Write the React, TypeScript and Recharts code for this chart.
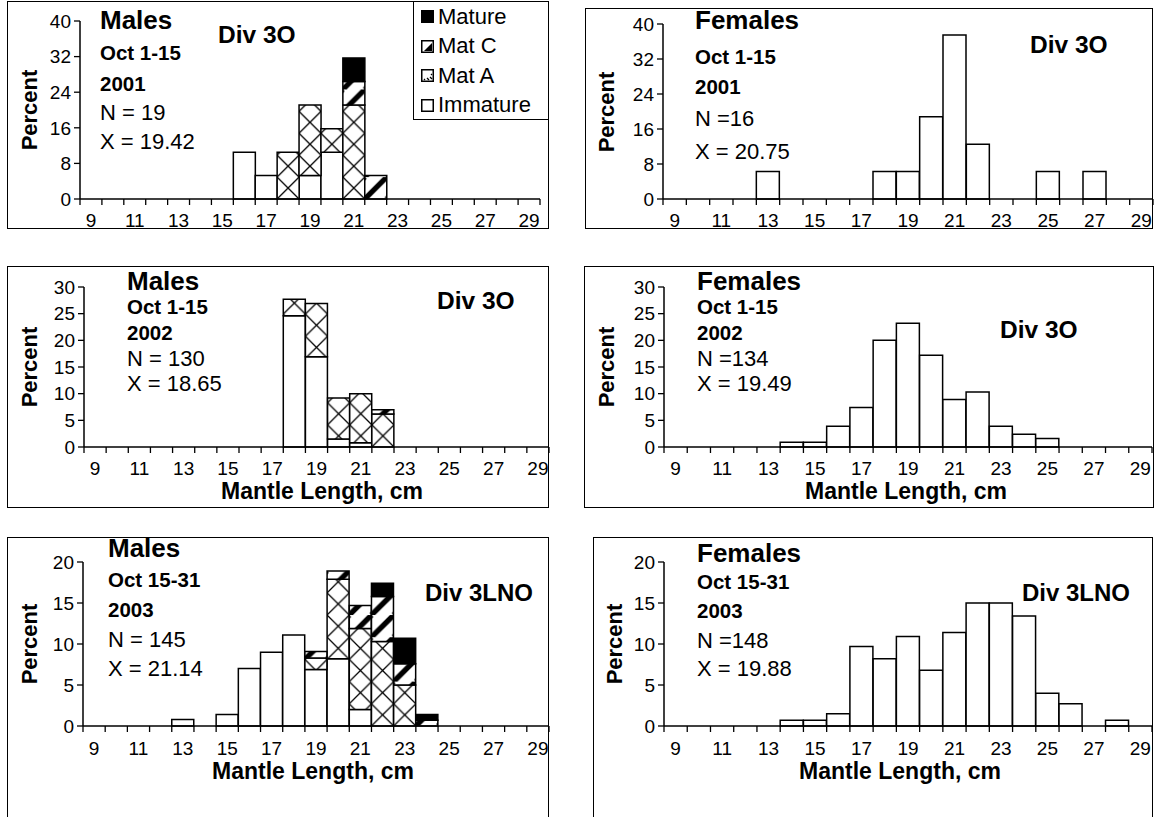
import { Bar, BarChart, Legend, XAxis, YAxis } from "recharts";

const FONT = "'Liberation Sans', Arial, Helvetica, sans-serif";

// Mantle length classes (cm), one bar per class.
const LENGTHS = [9, 10, 11, 12, 13, 14, 15, 16, 17, 18, 19, 20, 21, 22, 23, 24, 25, 26, 27, 28, 29];

const TICKS_40 = [0, 8, 16, 24, 32, 40];
const TICKS_30 = [0, 5, 10, 15, 20, 25, 30];
const TICKS_20 = [0, 5, 10, 15, 20];

// Percent per length class.  9  10 11 12 13 14 15  16    17   18    19    20    21    22   23   24   25   26   27   28   29
const MALES_2001_IMMATURE = [0, 0, 0, 0, 0, 0, 0, 10.5, 5.3, 0, 5.3, 10.5, 0, 0, 0, 0, 0, 0, 0, 0, 0];
const MALES_2001_MAT_A = [0, 0, 0, 0, 0, 0, 0, 0, 0, 10.5, 15.8, 5.3, 21.1, 0, 0, 0, 0, 0, 0, 0, 0];
const MALES_2001_MAT_C = [0, 0, 0, 0, 0, 0, 0, 0, 0, 0, 0, 0, 5.3, 5.3, 0, 0, 0, 0, 0, 0, 0];
const MALES_2001_MATURE = [0, 0, 0, 0, 0, 0, 0, 0, 0, 0, 0, 0, 5.3, 0, 0, 0, 0, 0, 0, 0, 0];

const FEMALES_2001 = [0, 0, 0, 0, 6.3, 0, 0, 0, 0, 6.3, 6.3, 18.8, 37.5, 12.5, 0, 0, 6.3, 0, 6.3, 0, 0];

const MALES_2002_IMMATURE = [0, 0, 0, 0, 0, 0, 0, 0, 0, 24.6, 16.9, 1.5, 0.8, 0, 0, 0, 0, 0, 0, 0, 0];
const MALES_2002_MAT_A = [0, 0, 0, 0, 0, 0, 0, 0, 0, 3.1, 10.0, 7.7, 9.2, 6.2, 0, 0, 0, 0, 0, 0, 0];
const MALES_2002_MAT_C = [0, 0, 0, 0, 0, 0, 0, 0, 0, 0, 0, 0, 0, 0.8, 0, 0, 0, 0, 0, 0, 0];
const MALES_2002_MATURE = [0, 0, 0, 0, 0, 0, 0, 0, 0, 0, 0, 0, 0, 0, 0, 0, 0, 0, 0, 0, 0];

const FEMALES_2002 = [0, 0, 0, 0, 0, 0.9, 0.9, 3.9, 7.4, 20.0, 23.2, 17.2, 8.9, 10.3, 3.9, 2.4, 1.6, 0, 0, 0, 0];

const MALES_2003_IMMATURE = [0, 0, 0, 0, 0.8, 0, 1.4, 7.0, 9.0, 11.1, 6.9, 8.2, 2.0, 0, 0, 0, 0, 0, 0, 0, 0];
const MALES_2003_MAT_A = [0, 0, 0, 0, 0, 0, 0, 0, 0, 0, 1.4, 9.7, 9.9, 10.3, 5.0, 0, 0, 0, 0, 0, 0];
const MALES_2003_MAT_C = [0, 0, 0, 0, 0, 0, 0, 0, 0, 0, 0.8, 1.0, 2.8, 5.5, 2.6, 0.7, 0, 0, 0, 0, 0];
const MALES_2003_MATURE = [0, 0, 0, 0, 0, 0, 0, 0, 0, 0, 0, 0, 0, 1.6, 3.1, 0.7, 0, 0, 0, 0, 0];

const FEMALES_2003 = [0, 0, 0, 0, 0, 0.7, 0.7, 1.5, 9.7, 8.2, 10.9, 6.8, 11.4, 15.0, 15.0, 13.4, 4.0, 2.7, 0, 0.7, 0];

function maleRows(imm: number[], matA: number[], matC: number[], mature: number[]) {
  return LENGTHS.map((len, i) => ({ len, imm: imm[i], matA: matA[i], matC: matC[i], mature: mature[i] }));
}

function femaleRows(pct: number[]) {
  return LENGTHS.map((len, i) => ({ len, pct: pct[i] }));
}

type Box = { x: number; y: number; w: number; h: number };
type Plot = { left: number; right: number; top: number; bottom: number };
type TextLine = { text: string; x: number; y: number; size: number; bold?: boolean };

const YAXIS_W = 50;
const XAXIS_H = 60;
const PAD_TOP = 16;
const TICK_FONT = 19;

function LengthTick(props: any) {
  const { x, y, payload, index, bw, labelGap } = props;
  const value = Number(payload.value);
  const left = x - bw / 2;
  return (
    <g>
      <line x1={left} x2={left} y1={y} y2={y + 6} stroke="#000" strokeWidth={1.3} />
      {index === LENGTHS.length - 1 && (
        <line x1={x + bw / 2} x2={x + bw / 2} y1={y} y2={y + 6} stroke="#000" strokeWidth={1.3} />
      )}
      {value % 2 === 1 && (
        <text x={x} y={y + labelGap} textAnchor="middle" dominantBaseline="central" fontSize={TICK_FONT} fontFamily={FONT} fill="#000">
          {value}
        </text>
      )}
    </g>
  );
}

function Swatch({ kind }: { kind: string }) {
  return (
    <svg width={13} height={13} style={{ flexShrink: 0 }}>
      <rect x={0.75} y={0.75} width={11.5} height={11.5} fill={kind === "Mature" ? "#000" : "#fff"} stroke="#000" strokeWidth={1.5} />
      {kind === "Mat C" && <polygon points="3,11 11,3 11,11" fill="#000" />}
      {kind === "Mat A" && <path d="M6 9 L8 11 M9 8 L11 10 M3 10 L4 11 M10 5 L11 6" stroke="#000" strokeWidth={1.3} />}
    </svg>
  );
}

function StageLegend(props: any) {
  const items = [...(props.payload ?? [])].reverse();
  return (
    <div
      style={{
        width: "100%",
        height: "100%",
        boxSizing: "border-box",
        border: "1.5px solid #000",
        background: "#fff",
        padding: "0 0 0 7px",
        fontFamily: FONT,
        fontSize: 22,
        color: "#000",
      }}
    >
      {items.map((it: any) => (
        <div key={it.value} style={{ display: "flex", alignItems: "center", height: 29.5 }}>
          <Swatch kind={it.value} />
          <span style={{ marginLeft: 4, whiteSpace: "nowrap" }}>{it.value}</span>
        </div>
      ))}
    </div>
  );
}

type PanelProps = {
  id: string;
  box: Box;
  plot: Plot;
  yMax: number;
  yTicks: number[];
  rows: any[];
  males: boolean;
  lines: TextLine[];
  div: TextLine;
  labelY: number;
  titleY?: number;
  titleX?: number;
  percentX: number;
  legend?: Box;
};

function Panel(p: PanelProps) {
  const chartLeft = p.box.x;
  const chartTop = p.plot.top - PAD_TOP;
  const chartWidth = p.plot.right - chartLeft + 8;
  const chartHeight = p.plot.bottom - chartTop + XAXIS_H;
  const bw = (p.plot.right - p.plot.left) / LENGTHS.length;
  const ox = p.plot.left - chartLeft;
  const oy = p.plot.bottom - chartTop;
  const barStyle = { stroke: "#000", strokeWidth: 1.5, stackId: "s", isAnimationActive: false };

  return (
    <>
      <div
        style={{
          position: "absolute",
          left: p.box.x,
          top: p.box.y,
          width: p.box.w,
          height: p.box.h,
          border: "1.5px solid #000",
          boxSizing: "border-box",
        }}
      />
      <div style={{ position: "absolute", left: chartLeft, top: chartTop }}>
        <BarChart
          width={chartWidth}
          height={chartHeight}
          data={p.rows}
          barCategoryGap={0}
          margin={{ top: PAD_TOP, left: ox - YAXIS_W, right: 8, bottom: 0 }}
        >
          <defs>
            <pattern id={`matA-${p.id}`} patternUnits="userSpaceOnUse" x={ox} y={oy} width={bw} height={bw}>
              <rect width={bw} height={bw} fill="#fff" />
              <path d={`M0 0 L${bw} ${bw} M${bw} 0 L0 ${bw}`} stroke="#000" strokeWidth={1.3} />
            </pattern>
            <pattern id={`matC-${p.id}`} patternUnits="userSpaceOnUse" x={ox} y={oy} width={bw} height={bw}>
              <rect width={bw} height={bw} fill="#fff" />
              <path
                d={`M${-bw} ${bw} L0 0 M0 ${bw} L${bw} 0 M${bw} ${bw} L${2 * bw} 0`}
                stroke="#000"
                strokeWidth={bw * 0.24}
              />
            </pattern>
          </defs>
          <XAxis
            dataKey="len"
            interval={0}
            tickSize={0}
            tickMargin={0}
            tickLine={false}
            height={XAXIS_H}
            axisLine={{ stroke: "#000", strokeWidth: 1.5 }}
            tick={(t: any) => <LengthTick {...t} bw={bw} labelGap={p.labelY - p.plot.bottom} />}
          />
          <YAxis
            width={YAXIS_W}
            domain={[0, p.yMax]}
            ticks={p.yTicks}
            interval={0}
            tickSize={6}
            tickMargin={3}
            axisLine={{ stroke: "#000", strokeWidth: 1.5 }}
            tickLine={{ stroke: "#000", strokeWidth: 1.3 }}
            tick={{ fill: "#000", fontSize: TICK_FONT, fontFamily: FONT }}
          />
          {p.males ? (
            [
              <Bar key="imm" dataKey="imm" name="Immature" fill="#fff" {...barStyle} />,
              <Bar key="matA" dataKey="matA" name="Mat A" fill={`url(#matA-${p.id})`} {...barStyle} />,
              <Bar key="matC" dataKey="matC" name="Mat C" fill={`url(#matC-${p.id})`} {...barStyle} />,
              <Bar key="mature" dataKey="mature" name="Mature" fill="#000" {...barStyle} />,
            ]
          ) : (
            <Bar dataKey="pct" name="Percent" fill="#fff" {...barStyle} />
          )}
          {p.legend && (
            <Legend
              layout="vertical"
              align="center"
              verticalAlign="middle"
              content={StageLegend}
              wrapperStyle={{
                left: p.legend.x - chartLeft,
                top: p.legend.y - chartTop,
                width: p.legend.w,
                height: p.legend.h,
              }}
            />
          )}
        </BarChart>
      </div>
      <div
        style={{
          position: "absolute",
          left: p.percentX,
          top: (p.plot.top + p.plot.bottom) / 2,
          transform: "translate(-50%, -50%) rotate(-90deg)",
          fontWeight: 700,
          fontSize: 22,
          lineHeight: 1,
          whiteSpace: "nowrap",
        }}
      >
        Percent
      </div>
      {[...p.lines, { ...p.div, bold: true }].map((l) => (
        <div
          key={l.text + l.y}
          style={{
            position: "absolute",
            left: l.x,
            top: l.y,
            transform: "translateY(-50%)",
            fontSize: l.size,
            fontWeight: l.bold ? 700 : 400,
            lineHeight: 1,
            whiteSpace: "nowrap",
          }}
        >
          {l.text}
        </div>
      ))}
      {p.titleY !== undefined && (
        <div
          style={{
            position: "absolute",
            left: p.titleX ?? (p.plot.left + p.plot.right) / 2,
            top: p.titleY,
            transform: "translate(-50%, -50%)",
            fontSize: 23,
            fontWeight: 700,
            lineHeight: 1,
            whiteSpace: "nowrap",
          }}
        >
          Mantle Length, cm
        </div>
      )}
    </>
  );
}

function info(x: number, ys: number[], sex: string, period: string, year: string, n: string, mean: string): TextLine[] {
  return [
    { text: sex, x, y: ys[0], size: 26, bold: true },
    { text: period, x, y: ys[1], size: 20.5, bold: true },
    { text: year, x, y: ys[2], size: 20.5, bold: true },
    { text: n, x, y: ys[3], size: 22 },
    { text: mean, x, y: ys[4], size: 22 },
  ];
}

export default function App() {
  return (
    <div
      style={{
        position: "absolute",
        left: 0,
        top: 0,
        width: 1158,
        height: 817,
        overflow: "hidden",
        background: "#fff",
        fontFamily: FONT,
        color: "#000",
      }}
    >
      <Panel
        id="m01"
        box={{ x: 7, y: 1, w: 542, h: 228 }}
        plot={{ left: 80, right: 540, top: 21, bottom: 199 }}
        yMax={40}
        yTicks={TICKS_40}
        rows={maleRows(MALES_2001_IMMATURE, MALES_2001_MAT_A, MALES_2001_MAT_C, MALES_2001_MATURE)}
        males
        lines={info(100, [20, 53, 84, 113, 142], "Males", "Oct 1-15", "2001", "N = 19", "X = 19.42")}
        div={{ text: "Div 3O", x: 218, y: 35, size: 24.5 }}
        labelY={220}
        percentX={30}
        legend={{ x: 413, y: 1, w: 136, h: 119 }}
      />
      <Panel
        id="f01"
        box={{ x: 585, y: 8, w: 568, h: 221 }}
        plot={{ left: 663, right: 1153, top: 24, bottom: 199 }}
        yMax={40}
        yTicks={TICKS_40}
        rows={femaleRows(FEMALES_2001)}
        males={false}
        lines={info(695, [20, 57, 87, 119, 152], "Females", "Oct 1-15", "2001", "N =16", "X = 20.75")}
        div={{ text: "Div 3O", x: 1030, y: 45, size: 24.5 }}
        labelY={220}
        percentX={607}
      />
      <Panel
        id="m02"
        box={{ x: 7, y: 266, w: 542, h: 242 }}
        plot={{ left: 84, right: 549, top: 287, bottom: 447 }}
        yMax={30}
        yTicks={TICKS_30}
        rows={maleRows(MALES_2002_IMMATURE, MALES_2002_MAT_A, MALES_2002_MAT_C, MALES_2002_MATURE)}
        males
        lines={info(127, [281, 307, 333, 359, 384], "Males", "Oct 1-15", "2002", "N = 130", "X = 18.65")}
        div={{ text: "Div 3O", x: 437, y: 301, size: 24.5 }}
        labelY={468}
        titleY={491}
        titleX={322}
        percentX={30}
      />
      <Panel
        id="f02"
        box={{ x: 584, y: 266, w: 570, h: 242 }}
        plot={{ left: 664, right: 1152, top: 287, bottom: 447 }}
        yMax={30}
        yTicks={TICKS_30}
        rows={femaleRows(FEMALES_2002)}
        males={false}
        lines={info(697, [281, 307, 333, 359, 384], "Females", "Oct 1-15", "2002", "N =134", "X = 19.49")}
        div={{ text: "Div 3O", x: 1000, y: 330, size: 24.5 }}
        labelY={468}
        titleY={491}
        titleX={906}
        percentX={607}
      />
      <Panel
        id="m03"
        box={{ x: 7, y: 537, w: 542, h: 290 }}
        plot={{ left: 83, right: 549, top: 562, bottom: 726 }}
        yMax={20}
        yTicks={TICKS_20}
        rows={maleRows(MALES_2003_IMMATURE, MALES_2003_MAT_A, MALES_2003_MAT_C, MALES_2003_MATURE)}
        males
        lines={info(108, [548, 580, 610, 640, 669], "Males", "Oct 15-31", "2003", "N = 145", "X = 21.14")}
        div={{ text: "Div 3LNO", x: 425, y: 593, size: 24 }}
        labelY={748}
        titleY={771}
        titleX={313}
        percentX={30}
      />
      <Panel
        id="f03"
        box={{ x: 593, y: 537, w: 560, h: 290 }}
        plot={{ left: 664, right: 1152, top: 562, bottom: 726 }}
        yMax={20}
        yTicks={TICKS_20}
        rows={femaleRows(FEMALES_2003)}
        males={false}
        lines={info(697, [553, 582, 611, 641, 669], "Females", "Oct 15-31", "2003", "N =148", "X = 19.88")}
        div={{ text: "Div 3LNO", x: 1022, y: 593, size: 24 }}
        labelY={748}
        titleY={771}
        titleX={900}
        percentX={615}
      />
    </div>
  );
}
